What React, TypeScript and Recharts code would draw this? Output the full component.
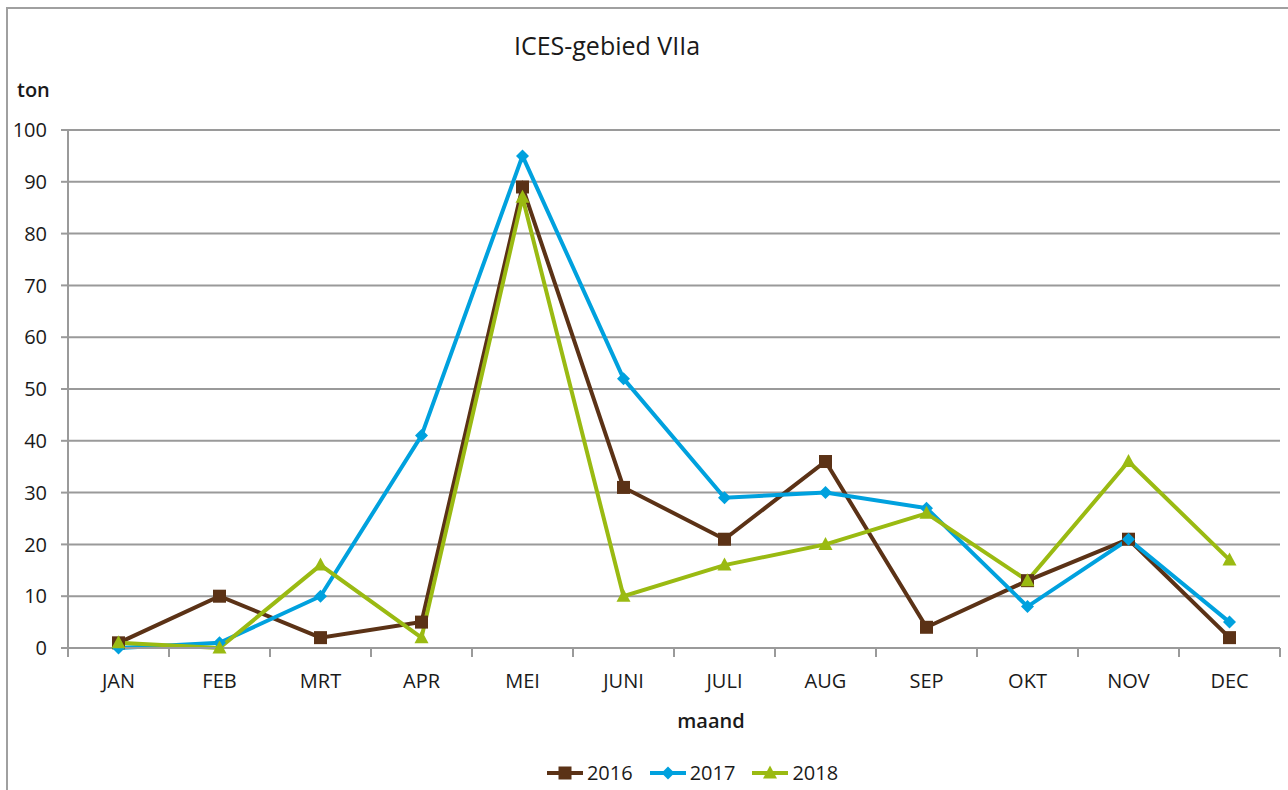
import React from 'react';
import { LineChart, Line, XAxis, YAxis, CartesianGrid } from 'recharts';

const months = ['JAN', 'FEB', 'MRT', 'APR', 'MEI', 'JUNI', 'JULI', 'AUG', 'SEP', 'OKT', 'NOV', 'DEC'];
const v2016 = [1, 10, 2, 5, 89, 31, 21, 36, 4, 13, 21, 2];
const v2017 = [0, 1, 10, 41, 95, 52, 29, 30, 27, 8, 21, 5];
const v2018 = [1, 0, 16, 2, 87, 10, 16, 20, 26, 13, 36, 17];
const yTicks = [0, 10, 20, 30, 40, 50, 60, 70, 80, 90, 100];

const seriesInfo = [
  { key: 's2016', name: '2016', color: '#5b3216', shape: 'square' },
  { key: 's2017', name: '2017', color: '#00a1de', shape: 'diamond' },
  { key: 's2018', name: '2018', color: '#9aba12', shape: 'triangle' },
];

const data = months.map((m, i) => ({ m, s2016: v2016[i], s2017: v2017[i], s2018: v2018[i] }));

const FONT = '"Open Sans", sans-serif';
const GRID = '#9a9a9a';

function Marker({ cx, cy, shape, color }: any) {
  if (cx == null || cy == null) return null;
  if (shape === 'square') return <rect x={cx - 6.5} y={cy - 6.5} width={13} height={13} fill={color} />;
  if (shape === 'diamond')
    return <polygon points={`${cx},${cy - 6.5} ${cx + 6.5},${cy} ${cx},${cy + 6.5} ${cx - 6.5},${cy}`} fill={color} />;
  return <polygon points={`${cx},${cy - 7.5} ${cx + 7},${cy + 5.5} ${cx - 7},${cy + 5.5}`} fill={color} />;
}

function XTick(props: any) {
  const { x, y, payload, index, visibleTicksCount } = props;
  const half = payload && payload.offset ? payload.offset : 50.5;
  const last = (visibleTicksCount ?? 12) - 1;
  return (
    <g>
      <line x1={x - half} x2={x - half} y1={y} y2={y + 9} stroke={GRID} strokeWidth={2} />
      {index === last && <line x1={x + half} x2={x + half} y1={y} y2={y + 9} stroke={GRID} strokeWidth={2} />}
      <text x={x} y={y + 40} textAnchor="middle" fontSize={20} fontFamily={FONT} fill="#1a1a1a">
        {payload.value}
      </text>
    </g>
  );
}

function LegendBlock() {
  return (
    <div style={{ position: 'absolute', left: 0, top: 759, width: 1288, display: 'flex', justifyContent: 'center', alignItems: 'center', fontFamily: FONT, fontSize: 20, color: '#1a1a1a', paddingLeft: 112, boxSizing: 'border-box' }}>
      {seriesInfo.map((s) => (
        <div key={s.key} style={{ display: 'flex', alignItems: 'center', marginRight: 16 }}>
          <svg width={38} height={16} style={{ marginRight: 3 }}>
            <line x1={1} x2={37} y1={8} y2={8} stroke={s.color} strokeWidth={4} />
            <Marker cx={19} cy={8} shape={s.shape} color={s.color} />
          </svg>
          <span>{s.name}</span>
        </div>
      ))}
    </div>
  );
}

export default function App() {
  return (
    <div style={{ position: 'absolute', left: 0, top: 0, width: 1288, height: 790, background: '#fff', overflow: 'hidden' }}>
      <div style={{ position: 'absolute', left: 6, top: 7, width: 1300, height: 800, borderTop: '2px solid #a0a0a0', borderLeft: '2px solid #a0a0a0' }} />
      <div style={{ position: 'absolute', left: 0, top: 0 }}>
        <LineChart width={1288} height={790} data={data} margin={{ top: 130, right: 8, bottom: 82, left: 7 }}>
          <CartesianGrid horizontal vertical={false} stroke={GRID} strokeWidth={2} />
          <XAxis
            dataKey="m"
            scale="band"
            axisLine={{ stroke: GRID, strokeWidth: 2 }}
            tickLine={false}
            tickSize={0}
            tickMargin={0}
            height={60}
            interval={0}
            tick={<XTick />}
          />
          <YAxis
            domain={[0, 100]}
            ticks={yTicks}
            width={61}
            interval={0}
            axisLine={{ stroke: GRID, strokeWidth: 2 }}
            tickLine={{ stroke: GRID, strokeWidth: 2 }}
            tickSize={7}
            tickMargin={14}
            tick={{ fontSize: 20, fontFamily: FONT, fill: '#1a1a1a' }}
          />
          {seriesInfo.map((s) => (
            <Line
              key={s.key}
              dataKey={s.key}
              name={s.name}
              stroke={s.color}
              strokeWidth={4}
              isAnimationActive={false}
              dot={(p: any) => <Marker key={`${s.key}-${p.index}`} cx={p.cx} cy={p.cy} shape={s.shape} color={s.color} />}
              activeDot={false}
            />
          ))}
        </LineChart>
      </div>
      <div style={{ position: 'absolute', left: 0, width: 1214, top: 28, textAlign: 'center', fontFamily: FONT, fontSize: 25, color: '#1a1a1a' }}>
        ICES-gebied VIIa
      </div>
      <div style={{ position: 'absolute', left: 17, top: 76, fontFamily: FONT, fontSize: 20, fontWeight: 600, color: '#1a1a1a' }}>ton</div>
      <div style={{ position: 'absolute', left: 611, width: 200, top: 707, textAlign: 'center', fontFamily: FONT, fontSize: 20, fontWeight: 600, color: '#1a1a1a' }}>
        maand
      </div>
      <LegendBlock />
    </div>
  );
}
